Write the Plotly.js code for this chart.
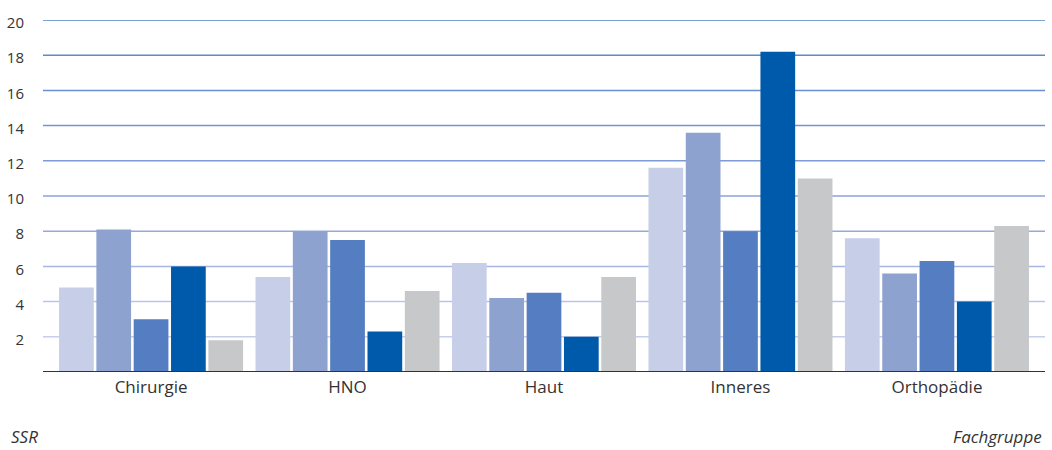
<!DOCTYPE html>
<html>
<head>
<meta charset="utf-8">
<script src="https://cdn.plot.ly/plotly-3.0.1.min.js"></script>
<style>
html,body{margin:0;padding:0;background:#fff;}
#chart{width:1052px;height:450px;}
</style>
</head>
<body>
<div id="chart"></div>
<script>
const categories = ["Chirurgie", "HNO", "Haut", "Inneres", "Orthopädie"];
const series1 = [4.8, 5.4, 6.2, 11.6, 7.6];
const series2 = [8.1, 8.0, 4.2, 13.6, 5.6];
const series3 = [3.0, 7.5, 4.5, 8.0, 6.3];
const series4 = [6.0, 2.3, 2.0, 18.2, 4.0];
const series5 = [1.8, 4.6, 5.4, 11.0, 8.3];
const yTickVals = [2, 4, 6, 8, 10, 12, 14, 16, 18, 20];
const yTickText = ["2", "4", "6", "8", "10", "12", "14", "16", "18", "20"];

const seriesList = [series1, series2, series3, series4, series5];
const barColors = ["#c7cfe8", "#8ea2d0", "#557dc1", "#005aab", "#c7c8ca"];
const gridColors = ["#c6cee9", "#bac5e6", "#a7b6e0", "#95a9dc", "#8ba2d8", "#7f9ad4", "#7594d2", "#6b8ed0", "#608acc", "#4f82c2"];

const font = "'Open Sans', 'DejaVu Sans', sans-serif";

const traces = seriesList.map((vals, i) => ({
  type: "bar",
  x: categories,
  y: vals,
  marker: {color: barColors[i], line: {width: 0}},
  hoverinfo: "skip",
  showlegend: false
}));

const shapes = yTickVals.map((v, i) => ({
  type: "line", xref: "paper", yref: "y",
  x0: 0, x1: 1, y0: v, y1: v,
  line: {color: gridColors[i], width: 1.5},
  layer: "below"
}));
shapes.push({
  type: "line", xref: "paper", yref: "y",
  x0: 0, x1: 1, y0: 0, y1: 0,
  line: {color: "#333333", width: 2},
  layer: "above"
});

const layout = {
  width: 1052, height: 450,
  margin: {l: 43, r: 7, t: 20, b: 78},
  paper_bgcolor: "#ffffff",
  plot_bgcolor: "#ffffff",
  barmode: "group",
  bargap: 0.05,
  bargroupgap: 0.07,
  font: {family: font, color: "#333333", size: 17},
  xaxis: {
    type: "category",
    range: [-0.55, 4.55],
    showgrid: false, zeroline: false, showline: false,
    ticks: "", tickfont: {size: 17, color: "#333333"},
    ticklabelstandoff: 3
  },
  yaxis: {
    range: [0, 20],
    tickvals: yTickVals, ticktext: yTickText,
    showgrid: false, zeroline: false, showline: false,
    ticks: "", tickfont: {size: 15, color: "#333333"},
    ticklabelstandoff: 18,
    ticklabelshift: 3
  },
  shapes: shapes,
  annotations: [
    {text: "<i>SSR</i>", xref: "paper", yref: "paper", x: -0.034, y: -0.145,
     xanchor: "left", yanchor: "top", showarrow: false, font: {size: 17, color: "#333333"}},
    {text: "<i>Fachgruppe</i>", xref: "paper", yref: "paper", x: 0.999, y: -0.145,
     xanchor: "right", yanchor: "top", showarrow: false, font: {size: 17, color: "#333333"}}
  ]
};

Plotly.newPlot("chart", traces, layout, {staticPlot: true, displayModeBar: false});
</script>
</body>
</html>
